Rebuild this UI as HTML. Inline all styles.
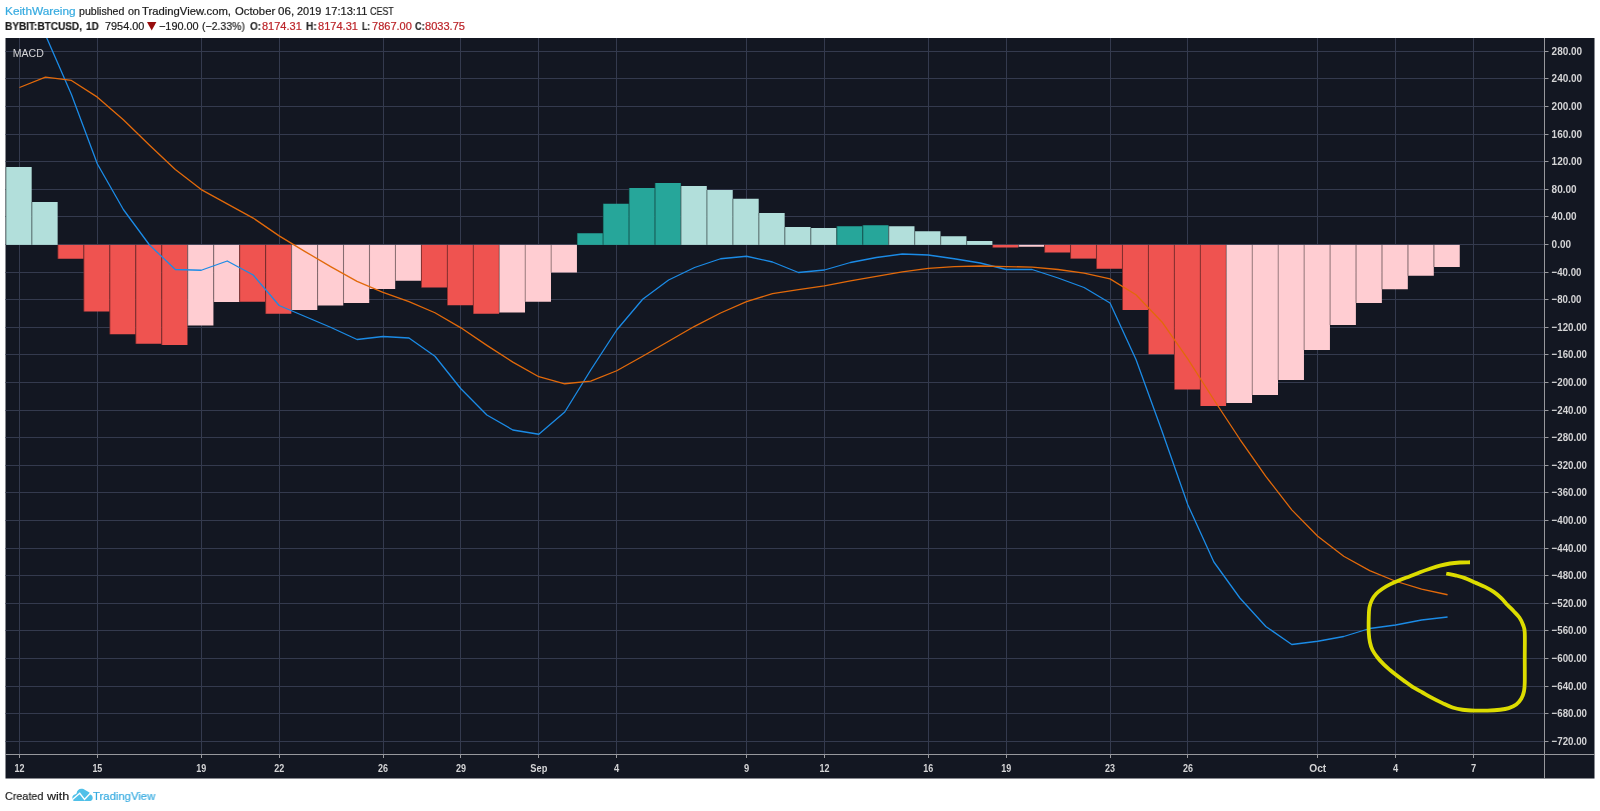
<!DOCTYPE html>
<html><head><meta charset="utf-8"><title>MACD</title>
<style>
html,body{margin:0;padding:0;background:#fff;}
body{width:1600px;height:811px;position:relative;overflow:hidden;font-family:"Liberation Sans",sans-serif;}
.t{-webkit-text-stroke:0.2px;position:absolute;white-space:nowrap;font-size:10.6px;color:#1c1c1c;line-height:1;transform-origin:0 0;display:block;will-change:transform}
.b{font-weight:bold}
.sb{font-weight:bold;color:#2a2a2a}
.f{font-size:11.4px}
.bl{color:#37abe0}
.rd{color:#bb2429}
</style></head><body>
<svg width="1600" height="811" viewBox="0 0 1600 811" style="position:absolute;left:0;top:0;will-change:transform">
<rect x="5.5" y="38" width="1589.0" height="740.5" fill="#131722"/>
<clipPath id="cp"><rect x="5.5" y="38" width="1539.0" height="716.5"/></clipPath>
<path d="M5.5 51.50H1544.5M5.5 78.50H1544.5M5.5 106.50H1544.5M5.5 134.50H1544.5M5.5 161.50H1544.5M5.5 189.50H1544.5M5.5 216.50H1544.5M5.5 244.50H1544.5M5.5 272.50H1544.5M5.5 299.50H1544.5M5.5 327.50H1544.5M5.5 354.50H1544.5M5.5 382.50H1544.5M5.5 410.50H1544.5M5.5 437.50H1544.5M5.5 465.50H1544.5M5.5 492.50H1544.5M5.5 520.50H1544.5M5.5 548.50H1544.5M5.5 575.50H1544.5M5.5 603.50H1544.5M5.5 630.50H1544.5M5.5 658.50H1544.5M5.5 686.50H1544.5M5.5 713.50H1544.5M5.5 741.50H1544.5M19.50 38V754.5M97.50 38V754.5M201.50 38V754.5M279.50 38V754.5M383.50 38V754.5M460.50 38V754.5M538.50 38V754.5M616.50 38V754.5M746.50 38V754.5M824.50 38V754.5M928.50 38V754.5M1006.50 38V754.5M1110.50 38V754.5M1187.50 38V754.5M1317.50 38V754.5M1395.50 38V754.5M1473.50 38V754.5" stroke="#343a4e" stroke-width="1" fill="none"/>
<g clip-path="url(#cp)">
<rect x="5.72" y="167.00" width="25.96" height="77.90" fill="#b2dfdb"/>
<rect x="5.42" y="167.00" width="1.1" height="77.90" fill="#000" fill-opacity="0.36"/>
<rect x="31.68" y="202.00" width="25.96" height="42.90" fill="#b2dfdb"/>
<rect x="31.38" y="202.00" width="1.1" height="42.90" fill="#000" fill-opacity="0.36"/>
<rect x="57.65" y="244.90" width="25.96" height="13.85" fill="#ef5350"/>
<rect x="57.35" y="244.90" width="1.1" height="13.85" fill="#000" fill-opacity="0.36"/>
<rect x="83.61" y="244.90" width="25.96" height="66.60" fill="#ef5350"/>
<rect x="83.31" y="244.90" width="1.1" height="66.60" fill="#000" fill-opacity="0.36"/>
<rect x="109.58" y="244.90" width="25.96" height="89.35" fill="#ef5350"/>
<rect x="109.28" y="244.90" width="1.1" height="89.35" fill="#000" fill-opacity="0.36"/>
<rect x="135.54" y="244.90" width="25.96" height="98.85" fill="#ef5350"/>
<rect x="135.24" y="244.90" width="1.1" height="98.85" fill="#000" fill-opacity="0.36"/>
<rect x="161.51" y="244.90" width="25.96" height="100.10" fill="#ef5350"/>
<rect x="161.21" y="244.90" width="1.1" height="100.10" fill="#000" fill-opacity="0.36"/>
<rect x="187.47" y="244.90" width="25.96" height="80.60" fill="#ffcdd2"/>
<rect x="187.17" y="244.90" width="1.1" height="80.60" fill="#000" fill-opacity="0.36"/>
<rect x="213.44" y="244.90" width="25.96" height="57.10" fill="#ffcdd2"/>
<rect x="213.14" y="244.90" width="1.1" height="57.10" fill="#000" fill-opacity="0.36"/>
<rect x="239.40" y="244.90" width="25.96" height="56.85" fill="#ef5350"/>
<rect x="239.10" y="244.90" width="1.1" height="56.85" fill="#000" fill-opacity="0.36"/>
<rect x="265.37" y="244.90" width="25.96" height="68.85" fill="#ef5350"/>
<rect x="265.07" y="244.90" width="1.1" height="68.85" fill="#000" fill-opacity="0.36"/>
<rect x="291.33" y="244.90" width="25.96" height="65.10" fill="#ffcdd2"/>
<rect x="291.03" y="244.90" width="1.1" height="65.10" fill="#000" fill-opacity="0.36"/>
<rect x="317.30" y="244.90" width="25.96" height="60.60" fill="#ffcdd2"/>
<rect x="317.00" y="244.90" width="1.1" height="60.60" fill="#000" fill-opacity="0.36"/>
<rect x="343.26" y="244.90" width="25.96" height="58.10" fill="#ffcdd2"/>
<rect x="342.96" y="244.90" width="1.1" height="58.10" fill="#000" fill-opacity="0.36"/>
<rect x="369.23" y="244.90" width="25.96" height="44.10" fill="#ffcdd2"/>
<rect x="368.93" y="244.90" width="1.1" height="44.10" fill="#000" fill-opacity="0.36"/>
<rect x="395.19" y="244.90" width="25.96" height="35.85" fill="#ffcdd2"/>
<rect x="394.89" y="244.90" width="1.1" height="35.85" fill="#000" fill-opacity="0.36"/>
<rect x="421.16" y="244.90" width="25.96" height="42.60" fill="#ef5350"/>
<rect x="420.86" y="244.90" width="1.1" height="42.60" fill="#000" fill-opacity="0.36"/>
<rect x="447.12" y="244.90" width="25.96" height="60.35" fill="#ef5350"/>
<rect x="446.82" y="244.90" width="1.1" height="60.35" fill="#000" fill-opacity="0.36"/>
<rect x="473.09" y="244.90" width="25.96" height="68.85" fill="#ef5350"/>
<rect x="472.79" y="244.90" width="1.1" height="68.85" fill="#000" fill-opacity="0.36"/>
<rect x="499.05" y="244.90" width="25.96" height="67.60" fill="#ffcdd2"/>
<rect x="498.75" y="244.90" width="1.1" height="67.60" fill="#000" fill-opacity="0.36"/>
<rect x="525.02" y="244.90" width="25.96" height="56.85" fill="#ffcdd2"/>
<rect x="524.72" y="244.90" width="1.1" height="56.85" fill="#000" fill-opacity="0.36"/>
<rect x="550.98" y="244.90" width="25.96" height="27.60" fill="#ffcdd2"/>
<rect x="550.68" y="244.90" width="1.1" height="27.60" fill="#000" fill-opacity="0.36"/>
<rect x="576.95" y="233.25" width="25.96" height="11.65" fill="#26a69a"/>
<rect x="576.65" y="233.25" width="1.1" height="11.65" fill="#000" fill-opacity="0.36"/>
<rect x="602.91" y="203.75" width="25.96" height="41.15" fill="#26a69a"/>
<rect x="602.61" y="203.75" width="1.1" height="41.15" fill="#000" fill-opacity="0.36"/>
<rect x="628.88" y="188.00" width="25.96" height="56.90" fill="#26a69a"/>
<rect x="628.58" y="188.00" width="1.1" height="56.90" fill="#000" fill-opacity="0.36"/>
<rect x="654.84" y="183.00" width="25.96" height="61.90" fill="#26a69a"/>
<rect x="654.54" y="183.00" width="1.1" height="61.90" fill="#000" fill-opacity="0.36"/>
<rect x="680.81" y="186.00" width="25.96" height="58.90" fill="#b2dfdb"/>
<rect x="680.51" y="186.00" width="1.1" height="58.90" fill="#000" fill-opacity="0.36"/>
<rect x="706.77" y="190.00" width="25.96" height="54.90" fill="#b2dfdb"/>
<rect x="706.47" y="190.00" width="1.1" height="54.90" fill="#000" fill-opacity="0.36"/>
<rect x="732.74" y="198.75" width="25.96" height="46.15" fill="#b2dfdb"/>
<rect x="732.44" y="198.75" width="1.1" height="46.15" fill="#000" fill-opacity="0.36"/>
<rect x="758.70" y="213.00" width="25.96" height="31.90" fill="#b2dfdb"/>
<rect x="758.40" y="213.00" width="1.1" height="31.90" fill="#000" fill-opacity="0.36"/>
<rect x="784.67" y="227.00" width="25.96" height="17.90" fill="#b2dfdb"/>
<rect x="784.37" y="227.00" width="1.1" height="17.90" fill="#000" fill-opacity="0.36"/>
<rect x="810.63" y="228.00" width="25.96" height="16.90" fill="#b2dfdb"/>
<rect x="810.33" y="228.00" width="1.1" height="16.90" fill="#000" fill-opacity="0.36"/>
<rect x="836.60" y="226.25" width="25.96" height="18.65" fill="#26a69a"/>
<rect x="836.30" y="226.25" width="1.1" height="18.65" fill="#000" fill-opacity="0.36"/>
<rect x="862.56" y="225.25" width="25.96" height="19.65" fill="#26a69a"/>
<rect x="862.26" y="225.25" width="1.1" height="19.65" fill="#000" fill-opacity="0.36"/>
<rect x="888.53" y="226.25" width="25.96" height="18.65" fill="#b2dfdb"/>
<rect x="888.23" y="226.25" width="1.1" height="18.65" fill="#000" fill-opacity="0.36"/>
<rect x="914.49" y="231.25" width="25.96" height="13.65" fill="#b2dfdb"/>
<rect x="914.19" y="231.25" width="1.1" height="13.65" fill="#000" fill-opacity="0.36"/>
<rect x="940.46" y="236.25" width="25.96" height="8.65" fill="#b2dfdb"/>
<rect x="940.16" y="236.25" width="1.1" height="8.65" fill="#000" fill-opacity="0.36"/>
<rect x="966.42" y="241.00" width="25.96" height="3.90" fill="#b2dfdb"/>
<rect x="966.12" y="241.00" width="1.1" height="3.90" fill="#000" fill-opacity="0.36"/>
<rect x="992.39" y="244.90" width="25.96" height="2.60" fill="#ef5350"/>
<rect x="992.09" y="244.90" width="1.1" height="2.60" fill="#000" fill-opacity="0.36"/>
<rect x="1018.35" y="244.90" width="25.96" height="1.85" fill="#ffcdd2"/>
<rect x="1018.05" y="244.90" width="1.1" height="1.85" fill="#000" fill-opacity="0.36"/>
<rect x="1044.32" y="244.90" width="25.96" height="7.60" fill="#ef5350"/>
<rect x="1044.02" y="244.90" width="1.1" height="7.60" fill="#000" fill-opacity="0.36"/>
<rect x="1070.28" y="244.90" width="25.96" height="13.70" fill="#ef5350"/>
<rect x="1069.98" y="244.90" width="1.1" height="13.70" fill="#000" fill-opacity="0.36"/>
<rect x="1096.25" y="244.90" width="25.96" height="23.85" fill="#ef5350"/>
<rect x="1095.95" y="244.90" width="1.1" height="23.85" fill="#000" fill-opacity="0.36"/>
<rect x="1122.21" y="244.90" width="25.96" height="65.10" fill="#ef5350"/>
<rect x="1121.91" y="244.90" width="1.1" height="65.10" fill="#000" fill-opacity="0.36"/>
<rect x="1148.18" y="244.90" width="25.96" height="109.35" fill="#ef5350"/>
<rect x="1147.88" y="244.90" width="1.1" height="109.35" fill="#000" fill-opacity="0.36"/>
<rect x="1174.14" y="244.90" width="25.96" height="144.60" fill="#ef5350"/>
<rect x="1173.84" y="244.90" width="1.1" height="144.60" fill="#000" fill-opacity="0.36"/>
<rect x="1200.11" y="244.90" width="25.96" height="161.10" fill="#ef5350"/>
<rect x="1199.81" y="244.90" width="1.1" height="161.10" fill="#000" fill-opacity="0.36"/>
<rect x="1226.07" y="244.90" width="25.96" height="158.10" fill="#ffcdd2"/>
<rect x="1225.77" y="244.90" width="1.1" height="158.10" fill="#000" fill-opacity="0.36"/>
<rect x="1252.04" y="244.90" width="25.96" height="150.10" fill="#ffcdd2"/>
<rect x="1251.74" y="244.90" width="1.1" height="150.10" fill="#000" fill-opacity="0.36"/>
<rect x="1278.00" y="244.90" width="25.96" height="135.10" fill="#ffcdd2"/>
<rect x="1277.70" y="244.90" width="1.1" height="135.10" fill="#000" fill-opacity="0.36"/>
<rect x="1303.97" y="244.90" width="25.96" height="105.10" fill="#ffcdd2"/>
<rect x="1303.67" y="244.90" width="1.1" height="105.10" fill="#000" fill-opacity="0.36"/>
<rect x="1329.93" y="244.90" width="25.96" height="80.10" fill="#ffcdd2"/>
<rect x="1329.63" y="244.90" width="1.1" height="80.10" fill="#000" fill-opacity="0.36"/>
<rect x="1355.90" y="244.90" width="25.96" height="58.10" fill="#ffcdd2"/>
<rect x="1355.60" y="244.90" width="1.1" height="58.10" fill="#000" fill-opacity="0.36"/>
<rect x="1381.86" y="244.90" width="25.96" height="44.35" fill="#ffcdd2"/>
<rect x="1381.56" y="244.90" width="1.1" height="44.35" fill="#000" fill-opacity="0.36"/>
<rect x="1407.83" y="244.90" width="25.96" height="30.85" fill="#ffcdd2"/>
<rect x="1407.53" y="244.90" width="1.1" height="30.85" fill="#000" fill-opacity="0.36"/>
<rect x="1433.79" y="244.90" width="25.96" height="22.10" fill="#ffcdd2"/>
<rect x="1433.49" y="244.90" width="1.1" height="22.10" fill="#000" fill-opacity="0.36"/>
<polyline points="19.50,10.00 45.47,35.00 71.43,94.55 97.39,164.00 123.36,209.50 149.32,244.75 175.29,269.50 201.25,270.25 227.22,261.00 253.19,275.00 279.15,305.50 305.12,316.50 331.08,327.50 357.05,339.50 383.01,336.50 408.98,338.00 434.94,356.25 460.90,388.75 486.87,415.00 512.84,430.00 538.80,434.25 564.76,412.00 590.73,370.00 616.70,330.00 642.66,299.25 668.62,280.00 694.59,267.50 720.55,258.75 746.52,256.25 772.49,262.00 798.45,272.50 824.41,270.00 850.38,262.50 876.35,257.50 902.31,254.00 928.27,255.00 954.24,258.75 980.21,263.00 1006.17,269.50 1032.13,269.50 1058.10,278.00 1084.07,287.50 1110.03,303.00 1135.99,359.50 1161.96,431.00 1187.92,505.00 1213.89,562.00 1239.86,598.00 1265.82,626.50 1291.79,644.50 1317.75,641.25 1343.71,636.50 1369.68,628.50 1395.64,625.00 1421.61,620.00 1447.58,617.00" fill="none" stroke="#1b8be6" stroke-width="1.3" stroke-linejoin="round"/>
<polyline points="19.50,87.50 45.47,77.15 71.43,80.45 97.39,97.15 123.36,119.69 149.32,144.93 175.29,169.45 201.25,189.61 227.22,203.86 253.19,218.07 279.15,235.84 305.12,251.58 331.08,266.83 357.05,281.33 383.01,292.34 408.98,301.63 434.94,312.74 460.90,327.83 486.87,345.37 512.84,362.12 538.80,376.71 564.76,383.77 590.73,381.03 616.70,370.75 642.66,356.24 668.62,341.26 694.59,326.30 720.55,313.00 746.52,301.69 772.49,293.61 798.45,289.59 824.41,285.83 850.38,280.88 876.35,276.40 902.31,271.93 928.27,268.38 954.24,266.65 980.21,266.01 1006.17,266.53 1032.13,267.17 1058.10,269.51 1084.07,273.08 1110.03,278.89 1135.99,294.74 1161.96,321.95 1187.92,359.16 1213.89,399.76 1239.86,439.26 1265.82,476.44 1291.79,509.84 1317.75,536.21 1343.71,556.30 1369.68,570.59 1395.64,581.25 1421.61,589.16 1447.58,594.76" fill="none" stroke="#e2690a" stroke-width="1.3" stroke-linejoin="round"/>
</g>
<path d="M1544.5 38V778.5M5.5 754.5H1594.5" stroke="#97989d" stroke-width="1" fill="none"/>
<path d="M1544.5 51.50h4M1544.5 78.50h4M1544.5 106.50h4M1544.5 134.50h4M1544.5 161.50h4M1544.5 189.50h4M1544.5 216.50h4M1544.5 244.50h4M1544.5 272.50h4M1544.5 299.50h4M1544.5 327.50h4M1544.5 354.50h4M1544.5 382.50h4M1544.5 410.50h4M1544.5 437.50h4M1544.5 465.50h4M1544.5 492.50h4M1544.5 520.50h4M1544.5 548.50h4M1544.5 575.50h4M1544.5 603.50h4M1544.5 630.50h4M1544.5 658.50h4M1544.5 686.50h4M1544.5 713.50h4M1544.5 741.50h4M19.50 754.5v3.5M97.50 754.5v3.5M201.50 754.5v3.5M279.50 754.5v3.5M383.50 754.5v3.5M460.50 754.5v3.5M538.50 754.5v3.5M616.50 754.5v3.5M746.50 754.5v3.5M824.50 754.5v3.5M928.50 754.5v3.5M1006.50 754.5v3.5M1110.50 754.5v3.5M1187.50 754.5v3.5M1317.50 754.5v3.5M1395.50 754.5v3.5M1473.50 754.5v3.5" stroke="#97989d" stroke-width="1" fill="none"/>
<g font-family="Liberation Sans, sans-serif" font-weight="bold" font-size="11" fill="#d4d4d6">
<text x="1551.6" y="55.40" textLength="30.6" lengthAdjust="spacingAndGlyphs">280.00</text>
<text x="1551.6" y="82.40" textLength="30.6" lengthAdjust="spacingAndGlyphs">240.00</text>
<text x="1551.6" y="110.40" textLength="30.6" lengthAdjust="spacingAndGlyphs">200.00</text>
<text x="1551.6" y="138.40" textLength="30.6" lengthAdjust="spacingAndGlyphs">160.00</text>
<text x="1551.6" y="165.40" textLength="30.6" lengthAdjust="spacingAndGlyphs">120.00</text>
<text x="1551.6" y="193.40" textLength="25.0" lengthAdjust="spacingAndGlyphs">80.00</text>
<text x="1551.6" y="220.40" textLength="25.0" lengthAdjust="spacingAndGlyphs">40.00</text>
<text x="1551.6" y="248.40" textLength="19.4" lengthAdjust="spacingAndGlyphs">0.00</text>
<text x="1551.6" y="276.40" textLength="29.8" lengthAdjust="spacingAndGlyphs">−40.00</text>
<text x="1551.6" y="303.40" textLength="29.8" lengthAdjust="spacingAndGlyphs">−80.00</text>
<text x="1551.6" y="331.40" textLength="35.4" lengthAdjust="spacingAndGlyphs">−120.00</text>
<text x="1551.6" y="358.40" textLength="35.4" lengthAdjust="spacingAndGlyphs">−160.00</text>
<text x="1551.6" y="386.40" textLength="35.4" lengthAdjust="spacingAndGlyphs">−200.00</text>
<text x="1551.6" y="414.40" textLength="35.4" lengthAdjust="spacingAndGlyphs">−240.00</text>
<text x="1551.6" y="441.40" textLength="35.4" lengthAdjust="spacingAndGlyphs">−280.00</text>
<text x="1551.6" y="469.40" textLength="35.4" lengthAdjust="spacingAndGlyphs">−320.00</text>
<text x="1551.6" y="496.40" textLength="35.4" lengthAdjust="spacingAndGlyphs">−360.00</text>
<text x="1551.6" y="524.40" textLength="35.4" lengthAdjust="spacingAndGlyphs">−400.00</text>
<text x="1551.6" y="552.40" textLength="35.4" lengthAdjust="spacingAndGlyphs">−440.00</text>
<text x="1551.6" y="579.40" textLength="35.4" lengthAdjust="spacingAndGlyphs">−480.00</text>
<text x="1551.6" y="607.40" textLength="35.4" lengthAdjust="spacingAndGlyphs">−520.00</text>
<text x="1551.6" y="634.40" textLength="35.4" lengthAdjust="spacingAndGlyphs">−560.00</text>
<text x="1551.6" y="662.40" textLength="35.4" lengthAdjust="spacingAndGlyphs">−600.00</text>
<text x="1551.6" y="690.40" textLength="35.4" lengthAdjust="spacingAndGlyphs">−640.00</text>
<text x="1551.6" y="717.40" textLength="35.4" lengthAdjust="spacingAndGlyphs">−680.00</text>
<text x="1551.6" y="745.40" textLength="35.4" lengthAdjust="spacingAndGlyphs">−720.00</text>
<text x="19.50" y="771.8" text-anchor="middle" textLength="10.0" lengthAdjust="spacingAndGlyphs">12</text>
<text x="97.39" y="771.8" text-anchor="middle" textLength="10.0" lengthAdjust="spacingAndGlyphs">15</text>
<text x="201.25" y="771.8" text-anchor="middle" textLength="10.0" lengthAdjust="spacingAndGlyphs">19</text>
<text x="279.15" y="771.8" text-anchor="middle" textLength="10.0" lengthAdjust="spacingAndGlyphs">22</text>
<text x="383.01" y="771.8" text-anchor="middle" textLength="10.0" lengthAdjust="spacingAndGlyphs">26</text>
<text x="460.90" y="771.8" text-anchor="middle" textLength="10.0" lengthAdjust="spacingAndGlyphs">29</text>
<text x="538.80" y="771.8" text-anchor="middle" textLength="17.0" lengthAdjust="spacingAndGlyphs">Sep</text>
<text x="616.70" y="771.8" text-anchor="middle" textLength="5.2" lengthAdjust="spacingAndGlyphs">4</text>
<text x="746.52" y="771.8" text-anchor="middle" textLength="5.2" lengthAdjust="spacingAndGlyphs">9</text>
<text x="824.41" y="771.8" text-anchor="middle" textLength="10.0" lengthAdjust="spacingAndGlyphs">12</text>
<text x="928.27" y="771.8" text-anchor="middle" textLength="10.0" lengthAdjust="spacingAndGlyphs">16</text>
<text x="1006.17" y="771.8" text-anchor="middle" textLength="10.0" lengthAdjust="spacingAndGlyphs">19</text>
<text x="1110.03" y="771.8" text-anchor="middle" textLength="10.0" lengthAdjust="spacingAndGlyphs">23</text>
<text x="1187.92" y="771.8" text-anchor="middle" textLength="10.0" lengthAdjust="spacingAndGlyphs">26</text>
<text x="1317.75" y="771.8" text-anchor="middle" textLength="17.0" lengthAdjust="spacingAndGlyphs">Oct</text>
<text x="1395.64" y="771.8" text-anchor="middle" textLength="5.2" lengthAdjust="spacingAndGlyphs">4</text>
<text x="1473.54" y="771.8" text-anchor="middle" textLength="5.2" lengthAdjust="spacingAndGlyphs">7</text>
</g>
<text x="12.8" y="57.3" font-family="Liberation Sans, sans-serif" font-size="11" fill="#d4d4d6" textLength="31" lengthAdjust="spacingAndGlyphs">MACD</text>
<path d="M1470 562.25C1468.33 562.29 1463.33 562.29 1460 562.5C1456.67 562.71 1453.33 562.98 1450 563.5C1446.67 564.02 1443.33 564.73 1440 565.6C1436.67 566.48 1433.33 567.64 1430 568.75C1426.67 569.86 1423.33 571.00 1420 572.25C1416.67 573.50 1413.33 574.96 1410 576.25C1406.67 577.54 1403.33 578.64 1400 580C1396.67 581.36 1392.92 582.94 1390 584.4C1387.08 585.86 1384.79 587.19 1382.5 588.75C1380.21 590.31 1378.02 591.88 1376.25 593.75C1374.48 595.62 1373.04 597.71 1371.9 600C1370.76 602.29 1369.93 604.58 1369.4 607.5C1368.88 610.42 1368.86 613.33 1368.75 617.5C1368.64 621.67 1368.54 628.33 1368.75 632.5C1368.96 636.67 1369.38 639.58 1370 642.5C1370.62 645.42 1371.25 647.50 1372.5 650C1373.75 652.50 1375.62 655.10 1377.5 657.5C1379.38 659.90 1381.67 662.32 1383.75 664.4C1385.83 666.48 1387.92 668.23 1390 670C1392.08 671.77 1393.96 673.23 1396.25 675C1398.54 676.77 1401.04 678.62 1403.75 680.6C1406.46 682.58 1409.38 684.92 1412.5 686.9C1415.62 688.88 1419.17 690.63 1422.5 692.5C1425.83 694.37 1429.17 696.33 1432.5 698.1C1435.83 699.87 1439.17 701.53 1442.5 703.1C1445.83 704.67 1449.17 706.39 1452.5 707.5C1455.83 708.61 1458.75 709.23 1462.5 709.75C1466.25 710.27 1470.83 710.46 1475 710.6C1479.17 710.74 1483.33 710.74 1487.5 710.6C1491.67 710.46 1496.46 710.17 1500 709.75C1503.54 709.33 1506.04 708.99 1508.75 708.1C1511.46 707.21 1514.17 705.96 1516.25 704.4C1518.33 702.84 1519.96 700.94 1521.25 698.75C1522.54 696.56 1523.42 693.96 1524 691.25C1524.58 688.54 1524.62 688.12 1524.75 682.5C1524.88 676.88 1524.75 665.83 1524.75 657.5C1524.75 649.17 1525.03 637.92 1524.75 632.5C1524.47 627.08 1523.99 627.50 1523.1 625C1522.21 622.50 1520.96 619.79 1519.4 617.5C1517.84 615.21 1515.73 613.33 1513.75 611.25C1511.77 609.17 1509.58 607.19 1507.5 605C1505.42 602.81 1503.54 600.28 1501.25 598.1C1498.96 595.92 1496.46 593.77 1493.75 591.9C1491.04 590.03 1488.12 588.47 1485 586.9C1481.88 585.33 1478.33 583.97 1475 582.5C1471.67 581.03 1468.12 579.25 1465 578.1C1461.88 576.95 1459.38 576.37 1456.25 575.6C1453.12 574.83 1447.92 573.85 1446.25 573.5" fill="none" stroke="#dcdc00" stroke-width="3.8" stroke-linecap="butt" stroke-linejoin="round"/>
</svg>
<span class="t bl" style="left:5.30px;top:5.53px;transform:scaleX(1.1170)">KeithWareing</span>
<span class="t " style="left:79.30px;top:5.53px;transform:scaleX(1.0009)">published</span>
<span class="t " style="left:127.70px;top:5.53px;transform:scaleX(1.0172)">on</span>
<span class="t " style="left:142.30px;top:5.53px;transform:scaleX(1.0643)">TradingView.com,</span>
<span class="t " style="left:235.30px;top:5.53px;transform:scaleX(1.0667)">October</span>
<span class="t " style="left:277.80px;top:5.53px;transform:scaleX(1.0927)">06,</span>
<span class="t " style="left:296.60px;top:5.53px;transform:scaleX(1.0306)">2019</span>
<span class="t " style="left:324.70px;top:5.53px;transform:scaleX(1.0506)">17:13:11</span>
<span class="t " style="left:370.30px;top:5.53px;transform:scaleX(0.8385)">CEST</span>
<span class="t b" style="left:5.30px;top:21.03px;transform:scaleX(0.9481)">BYBIT:BTCUSD,</span>
<span class="t b" style="left:86.30px;top:21.03px;transform:scaleX(0.9375)">1D</span>
<span class="t " style="left:104.70px;top:21.03px;transform:scaleX(1.0262)">7954.00</span>
<span class="t " style="left:159.40px;top:21.03px;transform:scaleX(1.0261)">−190.00</span>
<span class="t " style="left:202.40px;top:21.03px;transform:scaleX(0.9912)">(−2.33%)</span>
<span class="t sb" style="left:249.70px;top:21.03px;transform:scaleX(0.9337)">O:</span>
<span class="t rd" style="left:261.70px;top:21.03px;transform:scaleX(1.0392)">8174.31</span>
<span class="t sb" style="left:305.90px;top:21.03px;transform:scaleX(0.9475)">H:</span>
<span class="t rd" style="left:317.80px;top:21.03px;transform:scaleX(1.0445)">8174.31</span>
<span class="t sb" style="left:361.90px;top:21.03px;transform:scaleX(0.8100)">L:</span>
<span class="t rd" style="left:371.60px;top:21.03px;transform:scaleX(1.0419)">7867.00</span>
<span class="t sb" style="left:414.70px;top:21.03px;transform:scaleX(0.8581)">C:</span>
<span class="t rd" style="left:425.30px;top:21.03px;transform:scaleX(1.0445)">8033.75</span>
<span class="t f" style="left:5.40px;top:790.95px;transform:scaleX(0.9474)">Created</span>
<span class="t f" style="left:46.70px;top:790.95px;transform:scaleX(1.1004)">with</span>
<span class="t f bl" style="left:92.70px;top:790.95px;transform:scaleX(0.9922)">TradingView</span>
<svg style="position:absolute;left:147.3px;top:22.2px" width="9.4" height="8.4" viewBox="0 0 9.4 8.4"><path d="M0 0H9.4L4.7 8.4Z" fill="#970c0c"/></svg>
<svg style="position:absolute;left:71.5px;top:788px" width="21" height="14" viewBox="0 0 21 14"><path d="M2.3 12.9C1 12.9 0.3 11.6 0.3 10C0.3 8 1.6 6.5 3.4 6.3C3.9 6.2 4.4 5.8 4.6 5.2C5 2.6 7 0.8 9.3 0.8C10.8 0.8 12.1 1.3 13.1 1.9L17.5 4.4L18.3 6.5C19.8 7.1 20.7 8.4 20.7 10C20.7 11.6 19.6 12.9 18.2 12.9Z" fill="#50c0e8"/><path d="M0.2 11.7L7.75 5.3L12.5 11.4L18.8 4.8" fill="none" stroke="#fff" stroke-width="1.4" stroke-linejoin="miter"/></svg>
</body></html>
